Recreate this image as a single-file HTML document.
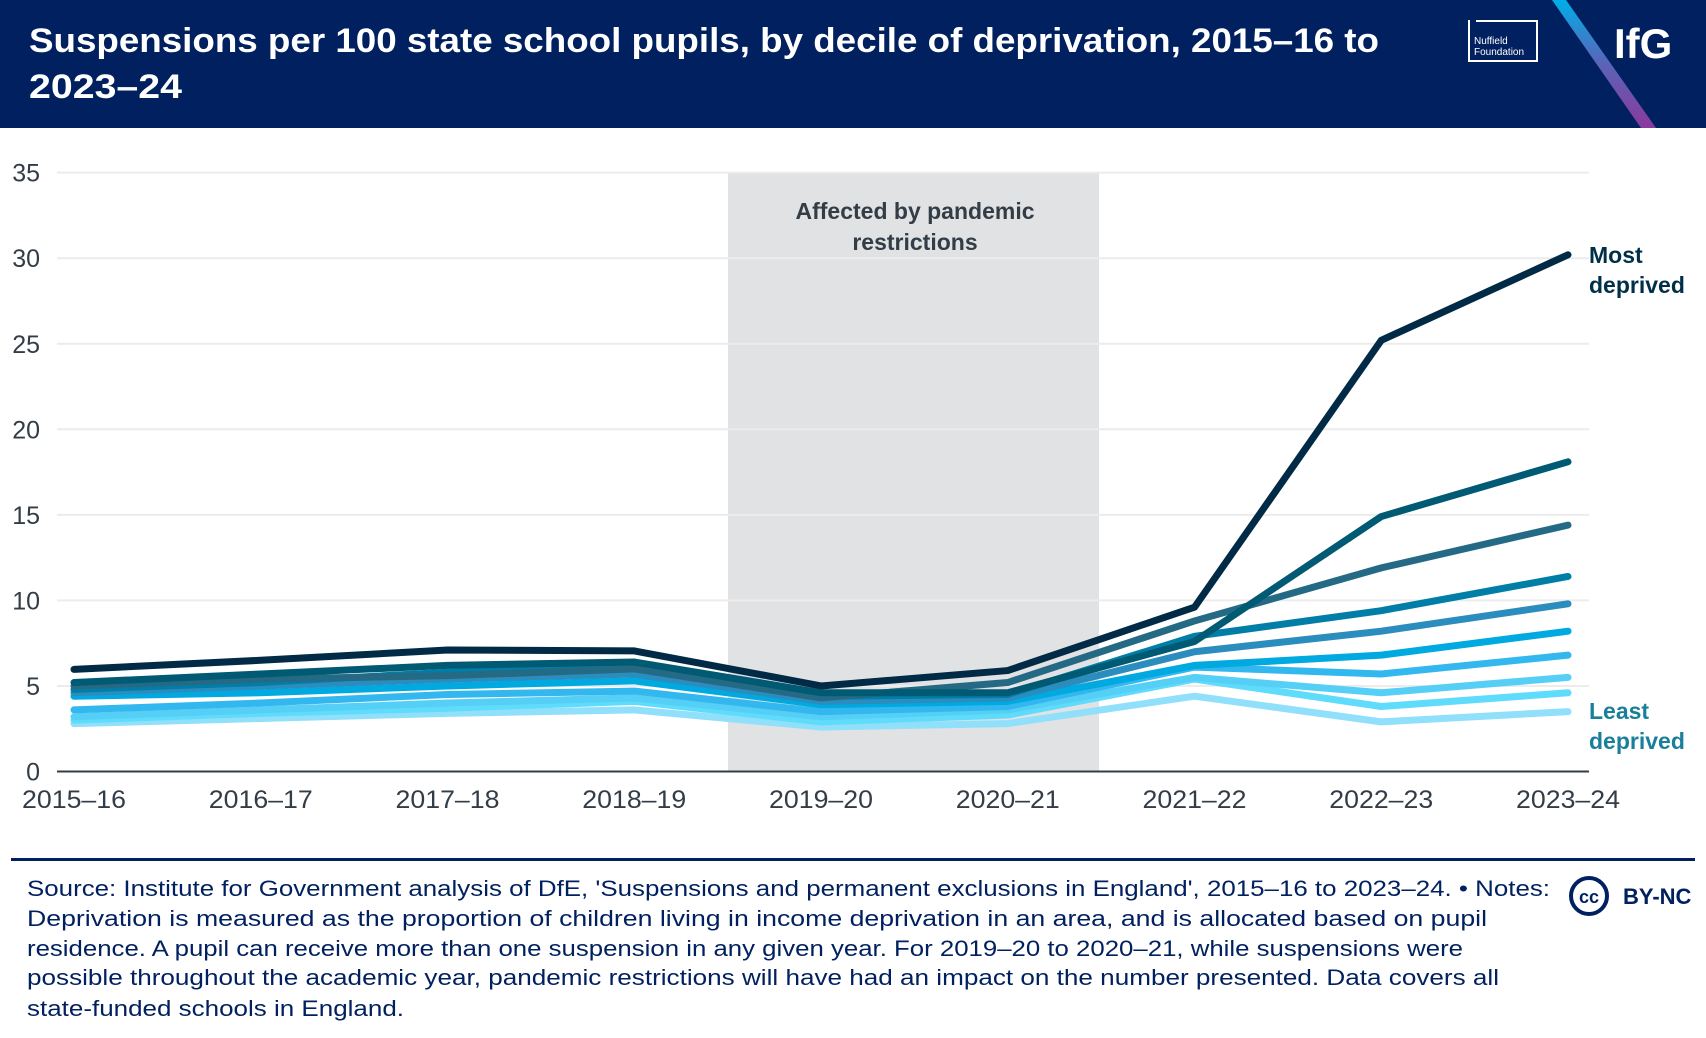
<!DOCTYPE html>
<html><head><meta charset="utf-8"><style>
body{margin:0;width:1706px;height:1038px;overflow:hidden;background:#fff;font-family:"Liberation Sans",sans-serif;}
svg{position:absolute;left:0;top:0}
</style></head><body>
<svg id="chart" width="1706" height="1038">
<rect x="0" y="0" width="1706" height="128" fill="#00205f"/>
<defs><linearGradient id="gr" x1="0" y1="0" x2="0" y2="1"><stop offset="0" stop-color="#00aee8"/><stop offset="0.5" stop-color="#5b63b8"/><stop offset="1" stop-color="#8a3a9c"/></linearGradient></defs>
<polygon points="1552,0 1566,0 1656,128 1641,128" fill="url(#gr)"/>
<text x="29" y="52" fill="#fff" font-size="34" font-weight="bold" textLength="1350" lengthAdjust="spacingAndGlyphs">Suspensions per 100 state school pupils, by decile of deprivation, 2015–16 to</text>
<text x="29" y="98" fill="#fff" font-size="34" font-weight="bold" textLength="153" lengthAdjust="spacingAndGlyphs">2023–24</text>
<g>
<path d="M1469,20 V61 H1537 V21 H1476" fill="none" stroke="#fff" stroke-width="2"/>
<text x="1474" y="44" fill="#fff" font-size="10">Nuffield</text>
<text x="1474" y="55" fill="#fff" font-size="10">Foundation</text>
</g>
<text x="1614" y="58" fill="#fff" font-size="42" font-weight="bold">IfG</text>
<rect x="728" y="172" width="371" height="599" fill="#e1e2e4"/>
<text x="915" y="219" text-anchor="middle" fill="#333d47" font-size="23" font-weight="bold">Affected by pandemic</text>
<text x="915" y="250" text-anchor="middle" fill="#333d47" font-size="23" font-weight="bold">restrictions</text>
<g id="grid"></g><g id="lines"></g>
<text x="1589" y="263" fill="#003049" font-size="23" font-weight="bold">Most</text>
<text x="1589" y="293" fill="#003049" font-size="23" font-weight="bold">deprived</text>
<text x="1589" y="719" fill="#1a7f9a" font-size="23" font-weight="bold">Least</text>
<text x="1589" y="749" fill="#1a7f9a" font-size="23" font-weight="bold">deprived</text>
<rect x="11" y="858" width="1684" height="3" fill="#00205f"/>
<g font-size="22" fill="#00205f" lengthAdjust="spacingAndGlyphs">
<text x="27" y="896" textLength="1523" lengthAdjust="spacingAndGlyphs">Source: Institute for Government analysis of DfE, 'Suspensions and permanent exclusions in England', 2015–16 to 2023–24. • Notes:</text>
<text x="27" y="926" textLength="1460" lengthAdjust="spacingAndGlyphs">Deprivation is measured as the proportion of children living in income deprivation in an area, and is allocated based on pupil</text>
<text x="27" y="956" textLength="1436" lengthAdjust="spacingAndGlyphs">residence. A pupil can receive more than one suspension in any given year. For 2019–20 to 2020–21, while suspensions were</text>
<text x="27" y="985" textLength="1472" lengthAdjust="spacingAndGlyphs">possible throughout the academic year, pandemic restrictions will have had an impact on the number presented. Data covers all</text>
<text x="27" y="1016" textLength="377" lengthAdjust="spacingAndGlyphs">state-funded schools in England.</text>
</g>
<g>
<circle cx="1589" cy="896" r="18" fill="none" stroke="#00205f" stroke-width="4"/>
<text x="1589" y="903" text-anchor="middle" font-size="18" font-weight="bold" fill="#00205f">cc</text>
<text x="1623" y="904" font-size="22" font-weight="bold" fill="#00205f">BY-NC</text>
</g>
</svg>
<script>
const categories=["2015–16","2016–17","2017–18","2018–19","2019–20","2020–21","2021–22","2022–23","2023–24"];
const yTicks=[0,5,10,15,20,25,30,35];
const decile1=[5.97,6.5,7.1,7.05,5.0,5.9,9.6,25.2,30.2];
const decile2=[5.2,5.7,6.2,6.4,4.6,4.6,7.6,14.9,18.1];
const decile3=[5.0,5.4,5.6,6.0,4.3,5.2,8.8,11.9,14.4];
const decile4=[4.8,5.2,5.8,6.1,4.4,4.5,7.9,9.4,11.4];
const decile5=[4.6,5.0,5.4,5.7,4.1,4.3,7.0,8.2,9.8];
const decile6=[4.4,4.6,5.0,5.3,3.9,4.1,6.2,6.8,8.2];
const decile7=[3.6,4.0,4.5,4.7,3.5,3.8,6.1,5.7,6.8];
const decile8=[3.2,3.6,4.0,4.3,3.2,3.6,5.5,4.6,5.5];
const decile9=[3.0,3.4,3.7,4.1,2.9,3.3,5.4,3.8,4.6];
const decile10=[2.8,3.1,3.4,3.6,2.6,2.8,4.4,2.9,3.5];
const series=[decile10,decile9,decile8,decile7,decile6,decile5,decile4,decile3,decile2,decile1];
const colors=["#90e0fb","#5fdcfc","#55cff5","#33b7ef","#00a9e0","#2b8cbe","#007ea7","#246a85","#005a73","#002a45"];
const NS="http://www.w3.org/2000/svg";
const x=i=>74+i*186.75;
const y=v=>771.5-v*17.11;
const grid=document.getElementById('grid');
yTicks.forEach(t=>{
  if(t>0){const l=document.createElementNS(NS,'line');
  l.setAttribute('x1',57);l.setAttribute('x2',1589);l.setAttribute('y1',y(t));l.setAttribute('y2',y(t));
  l.setAttribute('stroke','#ececec');l.setAttribute('stroke-width',2);
  
  
  grid.appendChild(l);}
  const tx=document.createElementNS(NS,'text');
  tx.setAttribute('x',40);tx.setAttribute('y',y(t)+9);tx.setAttribute('text-anchor','end');
  tx.setAttribute('font-size','25');tx.setAttribute('fill','#333d47');tx.textContent=t;
  
  
  grid.appendChild(tx);
});
categories.forEach((c,i)=>{
  const tx=document.createElementNS(NS,'text');
  tx.setAttribute('x',x(i));tx.setAttribute('y',808);tx.setAttribute('text-anchor','middle');
  tx.setAttribute('font-size','25');tx.setAttribute('fill','#333d47');tx.textContent=c;
  tx.setAttribute('textLength','104');
  tx.setAttribute('lengthAdjust','spacingAndGlyphs');
  
  
  grid.appendChild(tx);
});
const lines=document.getElementById('lines');
series.forEach((s,k)=>{
  const p=document.createElementNS(NS,'polyline');
  p.setAttribute('points',s.map((v,i)=>x(i)+','+y(v)).join(' '));
  p.setAttribute('fill','none');p.setAttribute('stroke',colors[k]);p.setAttribute('stroke-width',7);
  p.setAttribute('stroke-linecap','round');p.setAttribute('stroke-linejoin','round');
  
  
  lines.appendChild(p);
});
const ax=document.createElementNS(NS,'line');
ax.setAttribute('x1',57);ax.setAttribute('x2',1589);ax.setAttribute('y1',771.5);ax.setAttribute('y2',771.5);
ax.setAttribute('stroke','#333d47');ax.setAttribute('stroke-width',2);


lines.appendChild(ax);
</script>
</body></html>
